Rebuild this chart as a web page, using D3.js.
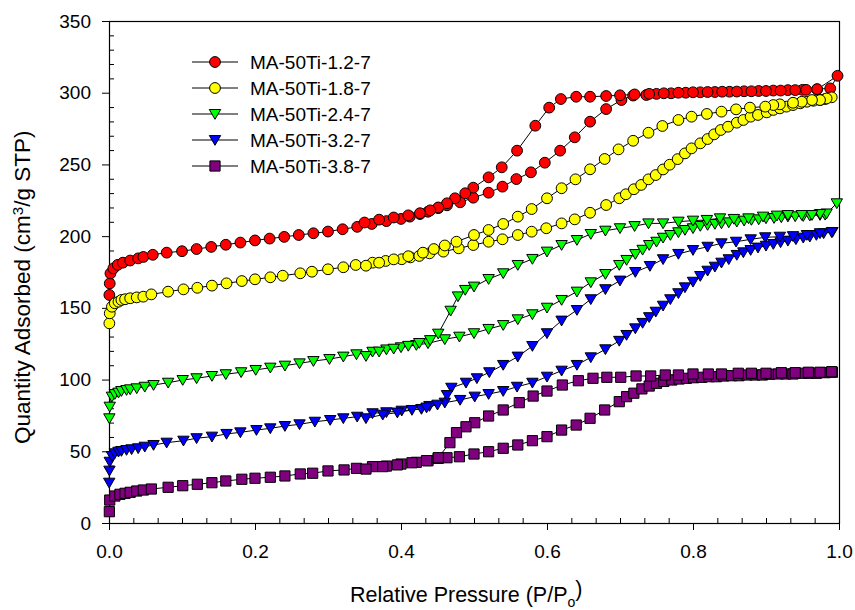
<!DOCTYPE html>
<html>
<head>
<meta charset="utf-8">
<script src="https://cdn.jsdelivr.net/npm/d3@7"></script>
<style>
    body { margin: 0; background: #fff; }
    svg text { font-family: Arial, "Liberation Sans", sans-serif; fill: #000; }
</style>
</head>
<body>
<div id="chart"></div>
<script>
//Ticks
const xTicks = [0, 0.2, 0.4, 0.6, 0.8, 1.0];
const yTicks = [0, 50, 100, 150, 200, 250, 300, 350];

//Nombres de las series
const seriesNames = ['MA-50Ti-1.2-7', 'MA-50Ti-1.8-7', 'MA-50Ti-2.4-7', 'MA-50Ti-3.2-7', 'MA-50Ti-3.8-7'];

//MA-50Ti-1.2-7 (adsorción y desorción)
const redAdsP = [0.0005, 0.001, 0.002, 0.006, 0.012, 0.019, 0.029, 0.040, 0.047, 0.060, 0.079, 0.10, 0.12, 0.14, 0.16, 0.18, 0.20, 0.22, 0.24, 0.26, 0.28, 0.30, 0.32, 0.34, 0.36, 0.38, 0.40, 0.412, 0.426, 0.437, 0.451, 0.463, 0.481, 0.499, 0.520, 0.539, 0.558, 0.578, 0.597, 0.618, 0.638, 0.659, 0.681, 0.702, 0.718, 0.736, 0.750, 0.77, 0.79, 0.81, 0.83, 0.85, 0.87, 0.89, 0.91, 0.93, 0.95, 0.97, 0.998];
const redAdsV = [159, 167, 174, 177.5, 180, 181.5, 183, 184.5, 185.5, 187, 188.5, 189.5, 191, 192.5, 194, 195.5, 197, 198.3, 199.5, 200.8, 202, 203.2, 204.8, 206.5, 208.5, 210.5, 212, 213.6, 215.4, 217, 219.5, 221.5, 223.6, 226.8, 230.3, 234.5, 239.8, 244.5, 251.2, 259.6, 268.9, 279.8, 288.6, 294.9, 298, 298.4, 299.2, 299.6, 300, 300.3, 300.5, 300.7, 301, 301.2, 301.5, 301.8, 302, 302.3, 311.8];
const redDesP = [0.988, 0.97, 0.955, 0.94, 0.92, 0.90, 0.88, 0.86, 0.84, 0.82, 0.80, 0.78, 0.76, 0.74, 0.72, 0.70, 0.681, 0.659, 0.640, 0.619, 0.603, 0.584, 0.559, 0.538, 0.520, 0.499, 0.488, 0.474, 0.463, 0.451, 0.440, 0.426, 0.41, 0.39, 0.37, 0.35];
const redDesV = [303, 302.5, 302, 301.8, 301.5, 301.2, 301, 300.8, 300.7, 300.5, 300.3, 300, 299.6, 299.2, 298.8, 298.2, 297.7, 297.2, 297.2, 295.6, 289.6, 277, 259.6, 248, 241, 233.8, 229.9, 226.4, 222.9, 220, 218, 216, 214.5, 213, 211.5, 209.5];

//MA-50Ti-1.8-7
const yellowAdsP = [0.0005, 0.001, 0.004, 0.008, 0.013, 0.017, 0.022, 0.029, 0.038, 0.047, 0.058, 0.081, 0.102, 0.121, 0.141, 0.161, 0.182, 0.200, 0.221, 0.238, 0.262, 0.278, 0.300, 0.321, 0.338, 0.361, 0.379, 0.401, 0.413, 0.425, 0.439, 0.458, 0.479, 0.499, 0.520, 0.539, 0.560, 0.579, 0.599, 0.620, 0.638, 0.659, 0.681, 0.699, 0.708, 0.719, 0.729, 0.739, 0.749, 0.759, 0.768, 0.779, 0.789, 0.798, 0.81, 0.82, 0.829, 0.838, 0.848, 0.86, 0.869, 0.879, 0.889, 0.901, 0.91, 0.919, 0.928, 0.937, 0.947, 0.956, 0.965, 0.974, 0.981, 0.99];
const yellowAdsV = [139.2, 146.2, 150.8, 153.2, 154.3, 155.5, 156, 156.7, 157.3, 157.8, 159.4, 161.3, 162.9, 164, 165.5, 167.1, 168.7, 169.9, 171.3, 172.4, 174.1, 175.2, 176.9, 178.3, 179.9, 181.5, 182.7, 183.9, 185.2, 186.2, 188, 189.2, 191.5, 193.8, 196.1, 197.8, 200.8, 203.1, 205.5, 208.9, 211.7, 216.3, 221.7, 226.4, 229.2, 232.7, 235.7, 239.6, 242.6, 246.5, 249.8, 253.7, 257.7, 261.2, 264.7, 267.7, 271, 274, 276.3, 279.1, 281, 283.3, 284.5, 286.3, 288, 289.1, 290.3, 291.4, 292.6, 293.7, 294.4, 294.9, 295.6, 296.8];
const yellowDesP = [0.983, 0.974, 0.963, 0.949, 0.937, 0.919, 0.91, 0.899, 0.878, 0.859, 0.839, 0.819, 0.798, 0.78, 0.758, 0.739, 0.718, 0.698, 0.679, 0.659, 0.639, 0.620, 0.600, 0.579, 0.560, 0.540, 0.520, 0.500, 0.476, 0.46, 0.445, 0.43, 0.41, 0.39, 0.37, 0.352];
const yellowDesV = [296, 294.9, 294.9, 293.7, 293, 291.9, 291.4, 290.3, 289.6, 288.4, 286.8, 285.2, 283.3, 281, 276.8, 272.1, 266.5, 260.5, 253.8, 246.6, 239.6, 233.4, 226.4, 218.9, 213.6, 208.5, 204.3, 200.8, 196.1, 193.5, 191, 188.5, 186, 183.8, 181.5, 179.4];

//MA-50Ti-2.4-7
const greenAdsP = [0.0005, 0.001, 0.004, 0.008, 0.013, 0.017, 0.024, 0.029, 0.038, 0.049, 0.061, 0.081, 0.101, 0.12, 0.141, 0.16, 0.181, 0.201, 0.221, 0.241, 0.261, 0.28, 0.302, 0.321, 0.339, 0.361, 0.38, 0.40, 0.421, 0.437, 0.46, 0.48, 0.50, 0.52, 0.54, 0.56, 0.58, 0.60, 0.62, 0.641, 0.66, 0.68, 0.699, 0.709, 0.721, 0.731, 0.74, 0.75, 0.759, 0.769, 0.78, 0.789, 0.80, 0.81, 0.82, 0.83, 0.839, 0.849, 0.86, 0.87, 0.88, 0.89, 0.90, 0.911, 0.921, 0.93, 0.94, 0.951, 0.96, 0.974, 0.981, 0.997];
const greenAdsV = [73, 81.1, 88.1, 89.9, 90.9, 92, 92.7, 93.2, 93.9, 95, 96.2, 97.8, 99.7, 100.9, 102.5, 103.7, 105.1, 106.7, 108.3, 109.7, 111.3, 112.9, 114.3, 116, 117.6, 119.4, 121, 122.5, 124.1, 125.3, 128.1, 129.9, 132.3, 135.3, 138, 142, 145.5, 150.1, 155.5, 161.3, 167.8, 173.6, 179.9, 183.4, 187.5, 190.5, 193.8, 196.1, 198.9, 200.8, 202.7, 204.3, 205.5, 207.1, 207.8, 208.5, 208.9, 209.6, 210.1, 210.8, 211.3, 211.7, 212.4, 212.6, 213.1, 213.6, 213.8, 214, 214.3, 214.7, 214.9, 222.9];
const greenDesP = [0.983, 0.974, 0.963, 0.949, 0.93, 0.915, 0.896, 0.876, 0.856, 0.837, 0.819, 0.80, 0.78, 0.759, 0.739, 0.72, 0.70, 0.68, 0.66, 0.641, 0.62, 0.60, 0.58, 0.56, 0.54, 0.52, 0.50, 0.488, 0.478, 0.468, 0.451, 0.44, 0.425, 0.41, 0.39, 0.37, 0.352];
const greenDesV = [215.8, 215.4, 214.7, 214.7, 214.7, 214.3, 213.6, 212.4, 212, 212.4, 211.3, 210.8, 210.1, 208.9, 208.9, 207, 205.5, 203.8, 201.5, 197.3, 193.8, 189.2, 184.1, 179.9, 174.1, 170.1, 164.8, 162.5, 158, 148, 132, 127.5, 125.5, 123.5, 121.5, 119.5, 116.4];

//MA-50Ti-3.2-7
const blueAdsP = [0.0003, 0.0006, 0.001, 0.004, 0.008, 0.013, 0.017, 0.024, 0.031, 0.04, 0.049, 0.061, 0.079, 0.102, 0.12, 0.141, 0.161, 0.18, 0.202, 0.221, 0.241, 0.261, 0.282, 0.303, 0.321, 0.34, 0.361, 0.38, 0.401, 0.428, 0.439, 0.46, 0.481, 0.501, 0.52, 0.54, 0.559, 0.58, 0.60, 0.62, 0.641, 0.66, 0.68, 0.699, 0.709, 0.721, 0.731, 0.74, 0.749, 0.759, 0.769, 0.78, 0.789, 0.80, 0.81, 0.82, 0.83, 0.839, 0.849, 0.86, 0.869, 0.879, 0.889, 0.90, 0.91, 0.92, 0.93, 0.941, 0.951, 0.96, 0.969, 0.979, 0.991];
const blueAdsV = [28.1, 36.5, 42.7, 46.7, 48.6, 49.7, 50.2, 50.9, 51.4, 52.1, 53.2, 54.4, 56, 57.4, 59.1, 60.2, 62.1, 63.2, 64.8, 66, 67.6, 68.8, 70.6, 71.8, 73, 74.1, 76.5, 77.2, 78.3, 79.5, 81.6, 83.9, 85.8, 88.1, 89.9, 92, 95, 97.8, 102, 106.2, 110.2, 115.5, 121.1, 127, 131.1, 135.7, 139.5, 143.5, 147.3, 151.5, 156, 160.2, 164.3, 168.2, 172.2, 175.9, 178.7, 181.5, 183.9, 186.9, 188.7, 190.3, 192, 193.3, 194.5, 195.7, 196.8, 197.8, 198.9, 199.6, 200.8, 202, 202.9];
const blueDesP = [0.99, 0.974, 0.956, 0.937, 0.919, 0.899, 0.879, 0.859, 0.839, 0.82, 0.80, 0.78, 0.759, 0.741, 0.721, 0.70, 0.68, 0.66, 0.641, 0.62, 0.60, 0.58, 0.56, 0.54, 0.521, 0.504, 0.489, 0.469, 0.463, 0.45, 0.435, 0.415, 0.395, 0.375, 0.352];
const blueDesV = [202.7, 202, 200.8, 200, 199.6, 199.2, 197.8, 196.1, 195, 192.6, 190.3, 187.6, 183.9, 179.2, 175, 169, 163, 156, 148.5, 141.1, 132.3, 123.4, 116, 110.2, 105.1, 100.9, 97.8, 94.3, 89.2, 82.5, 80.5, 78.8, 77, 75.5, 73];

//MA-50Ti-3.8-7
const purpleAdsP = [0.0005, 0.001, 0.008, 0.015, 0.022, 0.029, 0.038, 0.047, 0.058, 0.081, 0.101, 0.121, 0.141, 0.16, 0.182, 0.20, 0.221, 0.241, 0.262, 0.279, 0.30, 0.322, 0.339, 0.361, 0.38, 0.40, 0.421, 0.437, 0.451, 0.463, 0.48, 0.50, 0.52, 0.54, 0.56, 0.58, 0.60, 0.62, 0.64, 0.659, 0.679, 0.699, 0.709, 0.719, 0.73, 0.74, 0.75, 0.76, 0.771, 0.781, 0.791, 0.801, 0.812, 0.822, 0.832, 0.842, 0.853, 0.863, 0.874, 0.885, 0.895, 0.905, 0.917, 0.927, 0.937, 0.949, 0.959, 0.969, 0.981, 0.991];
const purpleAdsV = [7.9, 16, 18.8, 20, 20.7, 21.4, 22.3, 23, 23.7, 24.9, 26, 27, 28.1, 29.3, 30.5, 31.2, 31.9, 32.8, 34.2, 34.7, 36.3, 37, 38.1, 39.3, 39.7, 41.1, 42.3, 43.4, 45.1, 45.5, 46.2, 48.1, 49.7, 52.1, 54.4, 57.4, 60.2, 64.8, 68.3, 73, 78.8, 84.6, 88.1, 90.5, 93.5, 95.5, 97.4, 98.7, 99.7, 100.4, 100.9, 101.3, 101.6, 102, 102, 102.5, 102.7, 102.7, 103.2, 103.2, 103.2, 103.7, 103.9, 103.9, 103.9, 104.4, 104.4, 104.4, 104.8, 105.1];
const purpleDesP = [0.99, 0.974, 0.958, 0.94, 0.921, 0.90, 0.88, 0.862, 0.839, 0.821, 0.80, 0.78, 0.762, 0.742, 0.722, 0.701, 0.682, 0.663, 0.643, 0.621, 0.60, 0.581, 0.562, 0.54, 0.52, 0.501, 0.489, 0.476, 0.467, 0.451, 0.435, 0.415, 0.395, 0.375, 0.352];
const purpleDesV = [105.5, 105.1, 105.1, 104.8, 104.8, 104.4, 104.4, 104.4, 103.9, 103.9, 103.9, 103.2, 103.2, 102.5, 102.5, 101.6, 101.6, 100.9, 99.2, 96.2, 92, 88.5, 83.9, 78.8, 74.6, 69.9, 67.1, 63, 56, 45.5, 43.5, 42, 40.5, 39.3, 37.6];

//Colores
const COLOR_RED = '#FF0000',
COLOR_YELLOW = '#FFFF00',
COLOR_GREEN = '#00FF00',
COLOR_BLUE = '#0000FF',
COLOR_PURPLE = '#800080';

//Formas de los marcadores
const SHAPE_CIRCLE = 'M5.4,0A5.4,5.4 0 1,1 -5.4,0A5.4,5.4 0 1,1 5.4,0Z',
SHAPE_TRIANGLE = 'M-5.7,-4.5L5.7,-4.5L0,5.3Z',
SHAPE_SQUARE = 'M-5.1,-5.1L5.1,-5.1L5.1,5.1L-5.1,5.1Z';

function toPoints(adsP, adsV, desP, desV) {
    let pts = adsP.map(function(p, i) { return {p: p, v: adsV[i]}; });
    return pts.concat(desP.map(function(p, i) { return {p: p, v: desV[i]}; }));
}

let series = [
    {name: seriesNames[0], color: COLOR_RED, shape: SHAPE_CIRCLE, data: toPoints(redAdsP, redAdsV, redDesP, redDesV)},
    {name: seriesNames[1], color: COLOR_YELLOW, shape: SHAPE_CIRCLE, data: toPoints(yellowAdsP, yellowAdsV, yellowDesP, yellowDesV)},
    {name: seriesNames[2], color: COLOR_GREEN, shape: SHAPE_TRIANGLE, data: toPoints(greenAdsP, greenAdsV, greenDesP, greenDesV)},
    {name: seriesNames[3], color: COLOR_BLUE, shape: SHAPE_TRIANGLE, data: toPoints(blueAdsP, blueAdsV, blueDesP, blueDesV)},
    {name: seriesNames[4], color: COLOR_PURPLE, shape: SHAPE_SQUARE, data: toPoints(purpleAdsP, purpleAdsV, purpleDesP, purpleDesV)}
];

let margin = {top: 21, right: 16, bottom: 87, left: 109},
    width = 855 - margin.left - margin.right,
    height = 610 - margin.top - margin.bottom;

let svg = d3.select('#chart')
    .append('svg')
        .attr('width', width + margin.left + margin.right)
        .attr('height', height + margin.top + margin.bottom)
    .append('g')
        .attr('transform', 'translate(' + margin.left + ',' + margin.top + ')');

let x = d3.scaleLinear().domain([0, 1]).range([0, width]);
let y = d3.scaleLinear().domain([0, 350]).range([height, 0]);

//Ticks menores
let xMinor = d3.range(0, 31).filter(function(i) { return i % 6 != 0; }).map(function(i) { return i / 30; });
let yMinor = d3.range(0, 36).filter(function(i) { return i % 5 != 0; }).map(function(i) { return i * 10; });

//Eje X
svg.append('g')
    .attr('class', 'xaxis')
    .attr('transform', 'translate(0,' + height + ')')
    .call(d3.axisBottom(x).tickValues(xTicks).tickSize(7).tickPadding(15).tickFormat(d3.format('.1f')));

svg.append('g')
    .attr('transform', 'translate(0,' + height + ')')
    .call(d3.axisBottom(x).tickValues(xMinor).tickSize(-5).tickFormat(''));

//Eje Y
svg.append('g')
    .attr('class', 'yaxis')
    .call(d3.axisLeft(y).tickValues(yTicks).tickSize(7).tickPadding(11));

svg.append('g')
    .call(d3.axisLeft(y).tickValues(yMinor).tickSize(-5).tickFormat(''));

svg.selectAll('.domain').remove();
svg.selectAll('.tick line').attr('stroke', '#000').attr('stroke-width', 1);
svg.selectAll('.tick text').style('font-size', '19px');

//Marco
svg.append('rect')
    .attr('x', 0.5)
    .attr('y', 0.5)
    .attr('width', width)
    .attr('height', height)
    .attr('fill', 'none')
    .attr('stroke', '#000')
    .attr('stroke-width', 1.2);

//Series
let line = d3.line()
    .x(function(d) { return x(d.p); })
    .y(function(d) { return y(d.v); });

series.forEach(function(s) {
    let g = svg.append('g');

    g.append('path')
        .datum(s.data)
        .attr('d', line)
        .attr('fill', 'none')
        .attr('stroke', '#000')
        .attr('stroke-width', 1);

    g.selectAll('.marker')
        .data(s.data)
        .enter()
        .append('path')
        .attr('class', 'marker')
        .attr('d', s.shape)
        .attr('transform', function(d) { return 'translate(' + x(d.p) + ',' + y(d.v) + ')'; })
        .attr('fill', s.color)
        .attr('stroke', '#000')
        .attr('stroke-width', 1);
});

//Leyenda
let legend = svg.append('g')
    .attr('transform', 'translate(' + (192 - margin.left) + ',' + (62 - margin.top) + ')');

series.forEach(function(s, i) {
    let row = legend.append('g').attr('transform', 'translate(0,' + (i * 26) + ')');

    row.append('line')
        .attr('x1', 0)
        .attr('x2', 46)
        .attr('stroke', '#000')
        .attr('stroke-width', 1);

    row.append('path')
        .attr('d', s.shape)
        .attr('transform', 'translate(23,0)')
        .attr('fill', s.color)
        .attr('stroke', '#000');

    row.append('text')
        .attr('x', 58)
        .attr('dy', '0.36em')
        .style('font-size', '19px')
        .text(s.name);
});

//Títulos de los ejes
let xTitle = svg.append('text')
    .attr('x', 350 - margin.left)
    .attr('y', 602 - margin.top)
    .style('font-size', '21.5px');
xTitle.append('tspan').text('Relative Pressure (P/P');
xTitle.append('tspan').attr('dy', '0.35em').style('font-size', '14px').text('o');
xTitle.append('tspan').attr('dy', '-0.5em').text(')');

let yTitle = svg.append('text')
    .attr('transform', 'translate(' + (30 - margin.left) + ',' + (444 - margin.top) + ') rotate(-90)')
    .style('font-size', '22.5px');
yTitle.append('tspan').text('Quantity Adsorbed (cm');
yTitle.append('tspan').attr('dy', '-0.5em').style('font-size', '15px').text('3');
yTitle.append('tspan').attr('dy', '0.33em').text('/g STP)');
</script>
</body>
</html>
